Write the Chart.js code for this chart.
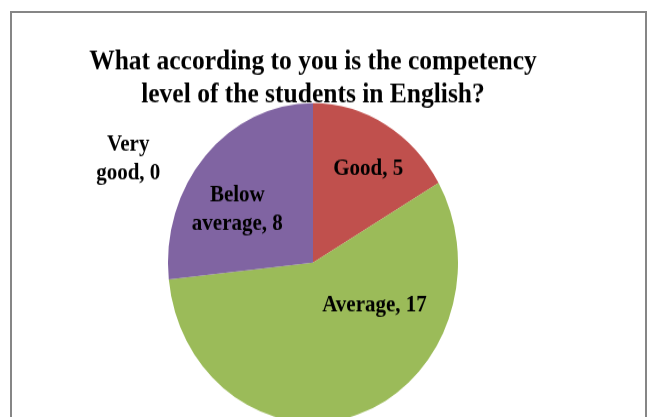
<!DOCTYPE html>
<html>
<head>
<meta charset="utf-8">
<title>Competency level in English</title>
<script src="https://cdn.jsdelivr.net/npm/chart.js@4.4.0/dist/chart.umd.min.js"></script>
<style>
  html, body { margin: 0; padding: 0; background: #fff; overflow: hidden; }
  #wrap { position: relative; width: 651px; height: 417px; overflow: hidden; }
  /* the reference picture is stretched a little taller than wide */
  #stretch { position: absolute; left: 0; top: 0; width: 651px; height: 379px; transform: scaleY(1.1); transform-origin: 0 0; }
  #frame { position: absolute; left: 10px; top: 11px; width: 633px; height: 500px; border: 2px solid #868686; }
</style>
</head>
<body>
<div id="wrap">
  <div id="stretch"><canvas id="pieChart" width="651" height="379"></canvas></div>
  <div id="frame"></div>
</div>
<script>
const categories = ["Very good", "Good", "Average", "Below average"];
const responses = [0, 5, 17, 8];
const sliceColors = ["#4F81BD", "#C0504D", "#9BBB59", "#8064A2"];
const titleLines = ["What according to you is the competency", "level of the students in English?"];

const serif = "'Liberation Serif', 'Times New Roman', serif";

// "Name, value" labels, placed around the slice centre like Excel's best fit
const sliceLabels = {
  id: "sliceLabels",
  afterDatasetsDraw(chart, args, opts) {
    const ctx = chart.ctx;
    const meta = chart.getDatasetMeta(0);
    ctx.save();
    ctx.font = "bold " + opts.size + "px " + serif;
    ctx.fillStyle = "#000";
    ctx.textAlign = "center";
    ctx.textBaseline = "middle";
    meta.data.forEach(function (arc, i) {
      const spot = opts.spots[i];
      const p = arc.getProps(["x", "y", "outerRadius"], true);
      const a = ((spot.angle - 90) * Math.PI) / 180;
      const cx = p.x + Math.cos(a) * spot.dist * p.outerRadius;
      const cy = p.y + Math.sin(a) * spot.dist * p.outerRadius;
      const name = chart.data.labels[i];
      const value = chart.data.datasets[0].data[i];
      const cut = name.indexOf(" ");
      const lines = cut > 0
        ? [name.slice(0, cut), name.slice(cut + 1) + ", " + value]
        : [name + ", " + value];
      lines.forEach(function (line, k) {
        ctx.fillText(line, cx, cy + (k - (lines.length - 1) / 2) * opts.lineHeight);
      });
    });
    ctx.restore();
  },
};

const pieChart = new Chart(document.getElementById("pieChart"), {
  type: "pie",
  data: {
    labels: categories,
    datasets: [
      {
        data: responses,
        backgroundColor: sliceColors,
        borderWidth: 0,
        clip: false,
      },
    ],
  },
  options: {
    responsive: false,
    devicePixelRatio: 1,
    animation: false,
    events: [],
    radius: 145,
    layout: {
      padding: { top: 18, left: 0, right: 25, bottom: 2 },
    },
    plugins: {
      legend: { display: false },
      tooltip: { enabled: false },
      title: {
        display: true,
        text: titleLines,
        color: "#000",
        padding: { top: 24, bottom: 0 },
        font: { family: serif, size: 25.5, weight: "bold", lineHeight: 1.15 },
      },
      sliceLabels: {
        size: 21,
        lineHeight: 26,
        spots: [
          { angle: 297, dist: 1.43 },
          { angle: 33, dist: 0.7 },
          { angle: 122, dist: 0.5 },
          { angle: 302.7, dist: 0.62 },
        ],
      },
    },
  },
  plugins: [sliceLabels],
});
</script>
</body>
</html>
